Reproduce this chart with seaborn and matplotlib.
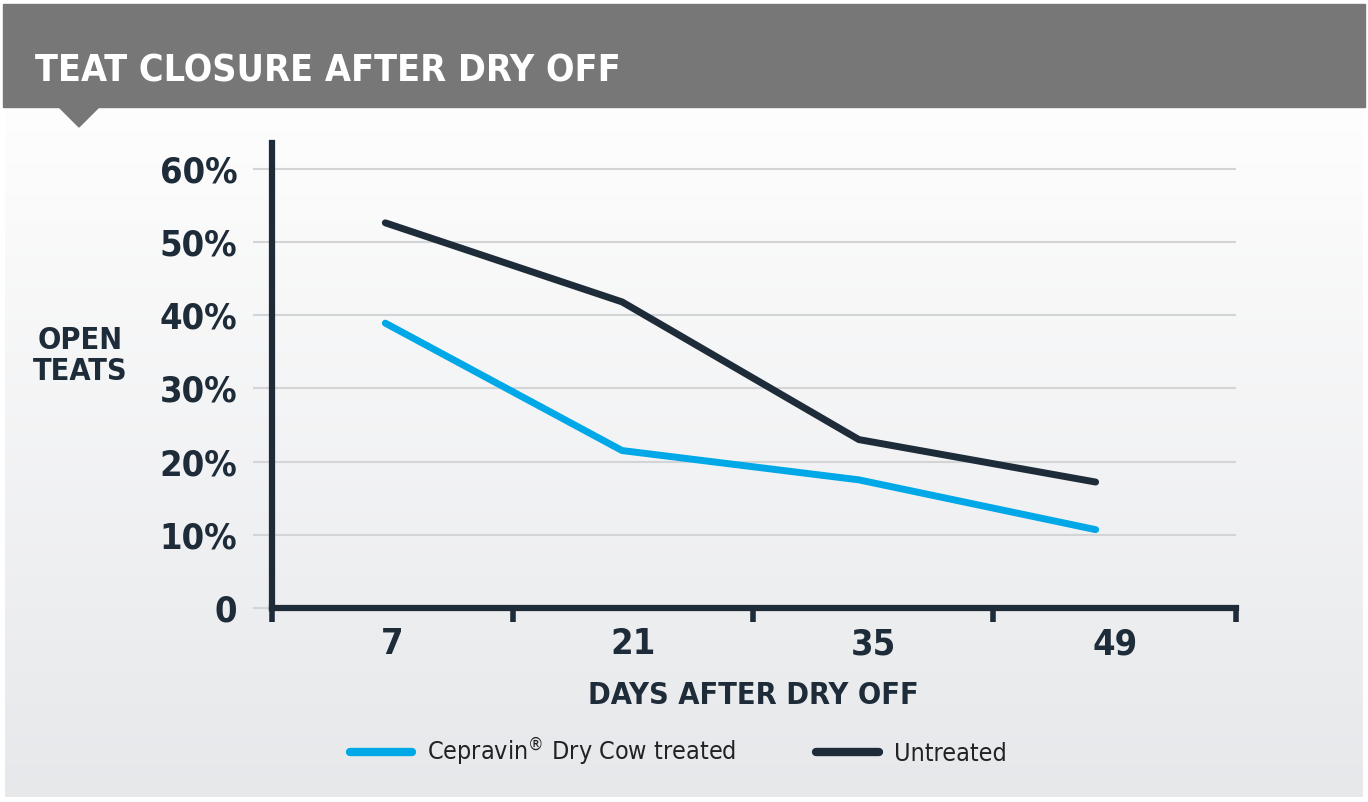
import matplotlib
matplotlib.use('Agg')
import matplotlib.pyplot as plt
from matplotlib import font_manager
from matplotlib.patches import Rectangle, Polygon
from matplotlib.ticker import FixedLocator, NullFormatter, FixedFormatter
import numpy as np
import pandas as pd
import seaborn as sns

# data
days = [7, 21, 35, 49]
treated = [38.9, 21.5, 17.5, 10.7]
untreated = [52.6, 41.8, 23.0, 17.2]
series_names = ['Cepravin$^{\\circledR}$ Dry Cow treated', 'Untreated']
y_ticks = [0, 10, 20, 30, 40, 50, 60]
y_labels = ['0', '10%', '20%', '30%', '40%', '50%', '60%']

dark = '#1e2b38'
cyan = '#00a8e8'
grid_col = '#d3d4d6'

df = pd.DataFrame({'Days': days * 2,
                   'Open teats': treated + untreated,
                   'Series': [series_names[0]] * 4 + [series_names[1]] * 4})

# look for a narrow face, otherwise fall back to Liberation Sans
names = set(f.name for f in font_manager.fontManager.ttflist)
condensed = [f.name for f in font_manager.fontManager.ttflist
             if f.stretch in ('condensed', 'semi-condensed', 'extra-condensed')]
stretch = 'normal'
if 'Liberation Sans Narrow' in names:
    fam = 'Liberation Sans Narrow'
    narrow = True
elif 'DejaVu Sans' in condensed:
    fam = 'DejaVu Sans'
    stretch = 'condensed'
    narrow = True
else:
    fam = 'Liberation Sans'
    narrow = False

sns.set_theme(style='white')
plt.rcParams['font.family'] = [fam, 'DejaVu Sans']
plt.rcParams['font.stretch'] = stretch

k = 1.0 if narrow else 0.9  # shrink a bit when only a normal-width face exists

W, H = 1368, 802
fig = plt.figure(figsize=(W / 100, H / 100), dpi=100)
fig.patch.set_facecolor('white')

# gradient background panel
bg = fig.add_axes([5 / W, 5 / H, 1358 / W, 690 / H], zorder=-5)
grad = np.linspace(0, 1, 256).reshape(-1, 1)
top = np.array([0.995, 0.995, 0.995])
bot = np.array([0.905, 0.91, 0.92])
img = top + (bot - top) * grad[:, :, None]
bg.imshow(img, aspect='auto', extent=[0, 1, 0, 1], origin='upper')
bg.axis('off')

# grey header band with pointer
fig.patches.append(Rectangle((3 / W, 1 - 107 / H), 1362 / W, 103 / H,
                             transform=fig.transFigure, color='#777777', zorder=0))
fig.patches.append(Polygon([(58 / W, 1 - 106 / H), (100 / W, 1 - 106 / H), (79 / W, 1 - 127 / H)],
                           closed=True, transform=fig.transFigure, color='#777777', zorder=0))
fig.text(35 / W, 1 - 71 / H, 'TEAT CLOSURE AFTER DRY OFF', color='white', fontsize=27 * k,
         fontweight='bold', ha='left', va='center')

ax = fig.add_axes([272 / W, 1 - 608 / H, (1236 - 272) / W, (608 - 143) / H])
ax.set_facecolor('none')

sns.lineplot(data=df, x='Days', y='Open teats', hue='Series',
             palette={series_names[0]: cyan, series_names[1]: dark},
             linewidth=5, solid_capstyle='round', solid_joinstyle='round', ax=ax)

ax.set_xlim(0.3, 57.3)
ax.set_ylim(0, 63.5)

# x axis: tick marks at the bin edges, labels centred in the bins
edges = [0.3, 14.56, 28.76, 42.96, 57.3]
centres = [(edges[i] + edges[i + 1]) / 2 for i in range(4)]
ax.xaxis.set_major_locator(FixedLocator(edges))
ax.xaxis.set_major_formatter(NullFormatter())
ax.xaxis.set_minor_locator(FixedLocator(centres))
ax.xaxis.set_minor_formatter(FixedFormatter([str(d) for d in days]))
ax.tick_params(axis='x', which='major', direction='out', length=10, width=4, color=dark, bottom=True)
ax.tick_params(axis='x', which='minor', length=0, pad=14, labelsize=26 * k, labelcolor=dark, bottom=True)
for lab in ax.xaxis.get_minorticklabels():
    lab.set_fontweight('bold')

ax.set_yticks(y_ticks)
ax.set_yticklabels(y_labels, fontsize=26 * k, fontweight='bold', color=dark)
ax.tick_params(axis='y', direction='out', length=14, width=1.5, color=grid_col, pad=11, left=True)
ax.grid(axis='y', color=grid_col, linewidth=1.5)
ax.grid(axis='x', visible=False)
ax.set_axisbelow(True)

for side in ['top', 'right']:
    ax.spines[side].set_visible(False)
for side in ['left', 'bottom']:
    ax.spines[side].set_color(dark)
    ax.spines[side].set_linewidth(4.5)
    ax.spines[side].set_capstyle('projecting')

ax.set_xlabel('')
ax.set_ylabel('')
fig.text(753 / W, 1 - 695 / H, 'DAYS AFTER DRY OFF', color=dark, fontsize=22 * k,
         fontweight='bold', ha='center', va='center')
fig.text(80 / W, 1 - 356 / H, 'OPEN\nTEATS', color=dark, fontsize=22 * k,
         fontweight='bold', ha='center', va='center', linespacing=1.1)

sns.move_legend(ax, 'center', bbox_to_anchor=(678 / W, 1 - 752 / H), bbox_transform=fig.transFigure,
                ncol=2, frameon=False, title=None, fontsize=18 * k, handlelength=2.5,
                handletextpad=0.6, columnspacing=3.2)
leg = ax.get_legend()
for h in leg.legend_handles:
    h.set_linewidth(6)
    h.set_solid_capstyle('round')
for t in leg.get_texts():
    t.set_color('#222222')

fig.savefig('out.png', dpi=100)
